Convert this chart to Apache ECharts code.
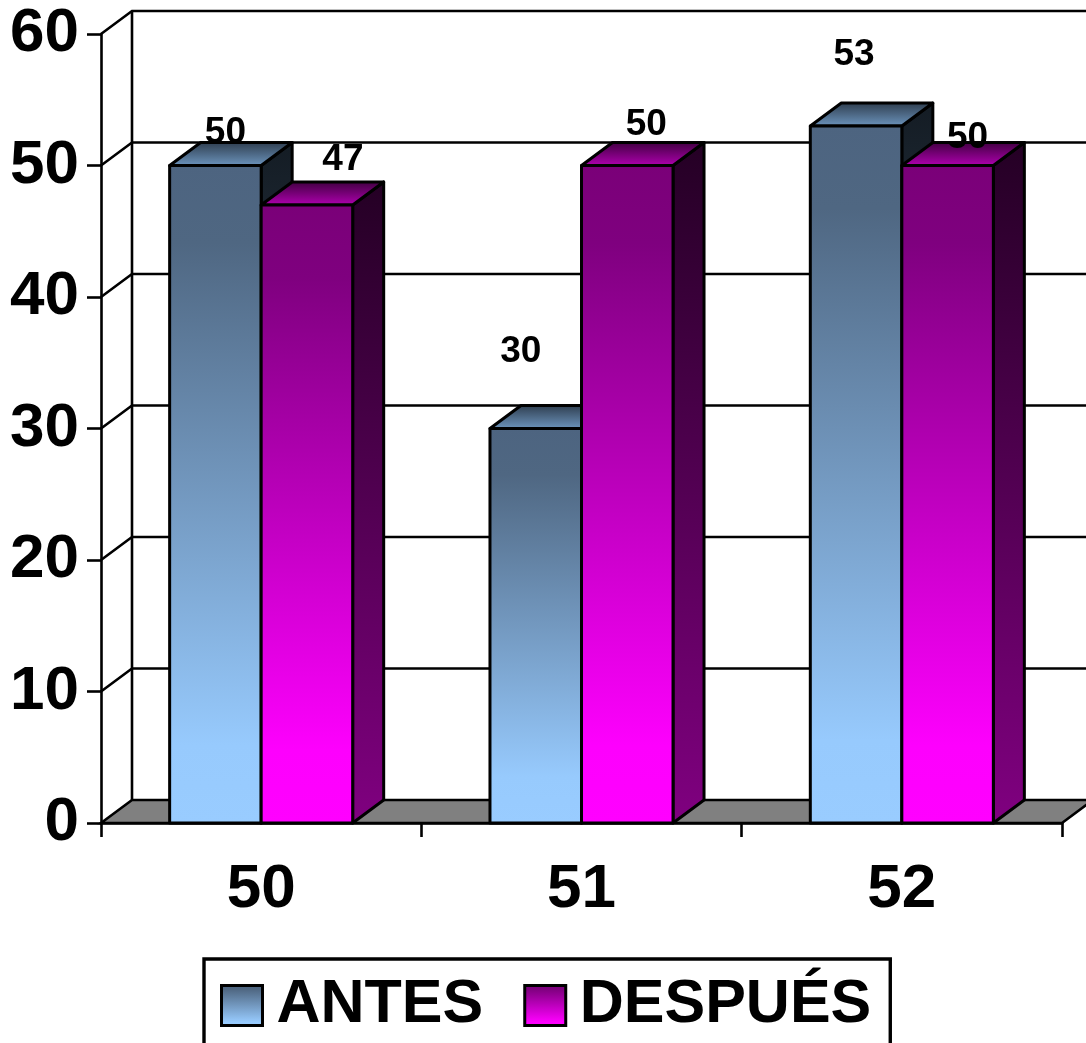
<!DOCTYPE html>
<html>
<head>
<meta charset="utf-8">
<style>html,body{margin:0;padding:0;background:#fff}#chart{width:1086px;height:1043px}</style>
<script src="https://cdn.jsdelivr.net/npm/echarts@6/dist/echarts.min.js"></script>
</head>
<body>
<div id="chart"></div>
<script>
// Chart values
const categories = ['50', '51', '52'];
const antes = [50, 30, 53];
const despues = [47, 50, 50];
const yTicks = [0, 10, 20, 30, 40, 50, 60];

// Box depth of the pseudo-3D projection, in pixels
const DEPTH_X = 31;
const DEPTH_Y = 23;
const FONT = '"Liberation Sans", Arial, sans-serif';

// Hand-placed value labels: pixel offset from the front top centre of each bar
const antesLabelOffset = [[10, -33], [-15, -77], [-2, -71]];
const despuesLabelOffset = [[36, -45], [19, -41], [20, -28]];

function vgrad(stops) {
  return {
    type: 'linear', x: 0, y: 0, x2: 0, y2: 1,
    colorStops: stops.map(s => ({ offset: s[0], color: s[1] }))
  };
}

const palettes = {
  antes: {
    front: vgrad([[0, '#4d6480'], [0.12, '#4f6782'], [0.88, '#97caFD'], [1, '#99ccff']]),
    top: vgrad([[0, '#2c3a4a'], [1, '#6f98c2']]),
    side: vgrad([[0, '#141c24'], [1, '#4d6680']])
  },
  despues: {
    front: vgrad([[0, '#7a0078'], [0.12, '#7f007f'], [0.88, '#fd00fd'], [1, '#ff00ff']]),
    top: vgrad([[0, '#3c003c'], [1, '#b400b4']]),
    side: vgrad([[0, '#240024'], [1, '#800080']])
  }
};

// Draws one extruded bar: front, top and side faces plus the value label
function barRenderer(slot, palette, labelOffset) {
  return function (params, api) {
    const value = api.value(1);
    const top = api.coord([api.value(0), value]);
    const base = api.coord([api.value(0), 0]);
    const w = api.size([1, 0])[0] / 3.5;
    const x0 = top[0] + (slot === 0 ? -w : 0);
    const x1 = x0 + w;
    const line = { stroke: '#000', lineWidth: 3, lineJoin: 'round' };
    const off = labelOffset[params.dataIndex];
    return {
      type: 'group',
      children: [
        {
          type: 'polygon',
          shape: { points: [[x1, top[1]], [x1 + DEPTH_X, top[1] - DEPTH_Y], [x1 + DEPTH_X, base[1] - DEPTH_Y], [x1, base[1]]] },
          style: Object.assign({ fill: palette.side }, line)
        },
        {
          type: 'polygon',
          shape: { points: [[x0, top[1]], [x0 + DEPTH_X, top[1] - DEPTH_Y], [x1 + DEPTH_X, top[1] - DEPTH_Y], [x1, top[1]]] },
          style: Object.assign({ fill: palette.top }, line)
        },
        {
          type: 'polygon',
          shape: { points: [[x0, top[1]], [x1, top[1]], [x1, base[1]], [x0, base[1]]] },
          style: Object.assign({ fill: palette.front }, line)
        },
        {
          type: 'text',
          z2: 100,
          style: {
            x: (x0 + x1) / 2 + off[0],
            y: top[1] + off[1],
            text: String(value),
            fill: '#000',
            font: 'bold 37px ' + FONT,
            align: 'center',
            verticalAlign: 'middle'
          }
        }
      ]
    };
  };
}

// Back wall, side-wall obliques and the grey floor
function renderFrame(params, api) {
  const cs = params.coordSys;
  const v = api.value(0);
  const y = api.coord([0, v])[1];
  const left = cs.x;
  const right = cs.x + cs.width;
  const stroke = { stroke: '#000', lineWidth: 2.6 };
  const children = [];
  if (v === 0) {
    children.push({
      type: 'polygon',
      shape: { points: [[left, y], [left + DEPTH_X, y - DEPTH_Y], [right + DEPTH_X, y - DEPTH_Y], [right, y]] },
      style: Object.assign({ fill: '#808080' }, stroke)
    });
    children.push({
      type: 'line',
      shape: { x1: left + DEPTH_X, y1: y - DEPTH_Y, x2: left + DEPTH_X, y2: cs.y - DEPTH_Y },
      style: stroke
    });
  } else {
    children.push({
      type: 'polyline',
      shape: { points: [[left, y], [left + DEPTH_X, y - DEPTH_Y], [right + DEPTH_X, y - DEPTH_Y]] },
      style: Object.assign({ fill: null }, stroke)
    });
  }
  return { type: 'group', children: children };
}

const axisLine = { show: true, lineStyle: { color: '#000', width: 2.6 } };
const axisTick = { show: true, length: 14, lineStyle: { color: '#000', width: 2.6 } };

const chart = echarts.init(document.getElementById('chart'));
chart.setOption({
  animation: false,
  backgroundColor: '#fff',
  grid: { left: 101, right: 24, top: 34, bottom: 220 },
  xAxis: {
    type: 'category',
    data: categories,
    axisLine: axisLine,
    axisTick: axisTick,
    axisLabel: { fontFamily: FONT, fontWeight: 'bold', fontSize: 62, color: '#000', margin: 36 },
    splitLine: { show: false }
  },
  yAxis: {
    type: 'value',
    min: 0,
    max: 60,
    interval: 10,
    axisLine: axisLine,
    axisTick: axisTick,
    axisLabel: { fontFamily: FONT, fontWeight: 'bold', fontSize: 62, color: '#000', margin: 22, padding: [12, 0, 0, 0] },
    splitLine: { show: false }
  },
  legend: {
    left: 204,
    top: 959,
    padding: [16, 19, 60, 16],
    borderColor: '#000',
    borderWidth: 3.4,
    itemWidth: 41,
    itemHeight: 40,
    itemGap: 40,
    textStyle: { fontFamily: FONT, fontWeight: 'bold', fontSize: 61, color: '#000', padding: [2, 0, 0, 9] },
    data: [
      { name: 'ANTES', icon: 'rect', itemStyle: { color: palettes.antes.front, borderColor: '#000', borderWidth: 3 } },
      { name: 'DESPUÉS', icon: 'rect', itemStyle: { color: palettes.despues.front, borderColor: '#000', borderWidth: 3 } }
    ]
  },
  series: [
    {
      type: 'custom',
      name: 'frame',
      coordinateSystem: 'cartesian2d',
      clip: false,
      silent: true,
      z: 1,
      encode: { y: 0 },
      data: yTicks.map(v => [v]),
      renderItem: renderFrame
    },
    {
      type: 'custom',
      name: 'ANTES',
      coordinateSystem: 'cartesian2d',
      clip: false,
      z: 2,
      encode: { x: 0, y: 1 },
      itemStyle: { color: palettes.antes.front },
      data: antes.map((v, i) => [i, v]),
      renderItem: barRenderer(0, palettes.antes, antesLabelOffset)
    },
    {
      type: 'custom',
      name: 'DESPUÉS',
      coordinateSystem: 'cartesian2d',
      clip: false,
      z: 3,
      encode: { x: 0, y: 1 },
      itemStyle: { color: palettes.despues.front },
      data: despues.map((v, i) => [i, v]),
      renderItem: barRenderer(1, palettes.despues, despuesLabelOffset)
    }
  ]
});
</script>
</body>
</html>
